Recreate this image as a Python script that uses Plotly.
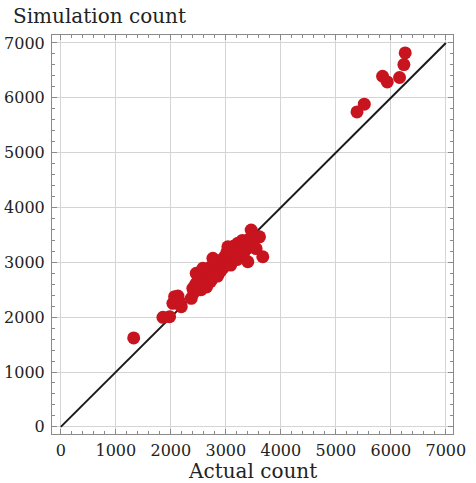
import plotly.graph_objects as go

actual = [1325, 1857, 1978, 2038, 2069, 2129, 2190, 2150, 2372, 2401, 2420, 2462, 2480, 2500,
          2530, 2583, 2560, 2600, 2620, 2650, 2680, 2700, 2720, 2740, 2765, 2780, 2800, 2820,
          2850, 2870, 2900, 2910, 2930, 2950, 2980, 3000, 3007, 3020, 3037, 3050, 3070, 3090,
          3100, 3120, 3150, 3170, 3200, 3220, 3250, 3280, 3300, 3320, 3350, 3400, 3380, 3420,
          3461, 3480, 3520, 3550, 3612, 3672, 2450, 2550, 2650, 2750, 2850,
          5385, 5517, 5850, 5935, 6158, 6237, 6261]
simulated = [1621, 1998, 2009, 2253, 2373, 2386, 2191, 2300, 2344, 2526, 2450, 2800, 2640, 2560,
             2700, 2891, 2620, 2750, 2600, 2820, 2700, 2900, 2650, 2800, 3073, 2950, 2750, 2880,
             3000, 2800, 2950, 2850, 3050, 2900, 3100, 2950, 2987, 3180, 3284, 3050, 3150, 2950,
             3250, 3100, 3300, 3200, 3050, 3350, 3200, 3300, 3400, 3150, 3350, 3011, 3250, 3420,
             3588, 3300, 3450, 3250, 3466, 3102, 2600, 2500, 2550, 2700, 2750,
             5743, 5883, 6393, 6290, 6370, 6606, 6818]
diag = [0, 7000]
ticks = [0, 1000, 2000, 3000, 4000, 5000, 6000, 7000]

font_family = "DejaVu Serif"
red = "#C8141F"

fig = go.Figure()
fig.add_trace(go.Scatter(x=diag, y=diag, mode="lines",
                         line=dict(color="#1a1a1a", width=2), showlegend=False))
fig.add_trace(go.Scatter(x=actual, y=simulated, mode="markers",
                         marker=dict(color=red, size=13, line=dict(width=0)),
                         showlegend=False))

axis_common = dict(
    tickvals=ticks, ticktext=[str(t) for t in ticks],
    showgrid=True, gridcolor="#d4d4d4", gridwidth=1,
    zeroline=False, showline=True, linecolor="#8a8a8a", linewidth=1, mirror="ticks",
    ticks="inside", ticklen=5, tickcolor="#8a8a8a",
    minor=dict(dtick=200, ticks="inside", ticklen=3, tickcolor="#8a8a8a", showgrid=False),
    tickfont=dict(family=font_family, size=16, color="#222"),
    automargin=False,
)

fig.update_layout(
    width=476, height=483,
    margin=dict(l=52, r=23, t=35, b=49),
    paper_bgcolor="white", plot_bgcolor="white",
    xaxis=dict(range=[-160, 7130], ticklabelstandoff=2, **axis_common),
    yaxis=dict(range=[-130, 7145], ticklabelstandoff=3, **axis_common),
    font=dict(family=font_family),
    annotations=[
        dict(text="Simulation count", xref="paper", yref="paper", x=-0.103, y=1.0,
             xanchor="left", yanchor="bottom", yshift=5, showarrow=False,
             font=dict(family=font_family, size=20, color="#222")),
        dict(text="Actual count", xref="paper", yref="paper", x=0.5, y=0,
             xanchor="center", yanchor="top", yshift=-23, showarrow=False,
             font=dict(family=font_family, size=20, color="#222")),
    ],
)

fig.write_html("out.html")
